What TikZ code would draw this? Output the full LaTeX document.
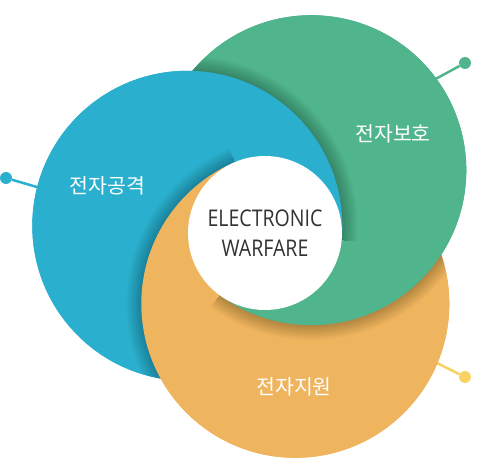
\documentclass[tikz,border=0pt]{standalone}
\usepackage{fontspec}
\setmainfont{Noto Sans CJK KR}
\newfontfamily\enfont[FakeStretch=0.85]{Open Sans}
\definecolor{ewblue}{HTML}{2AB0CE}
\definecolor{ewgreen}{HTML}{50B48C}
\definecolor{eworange}{HTML}{EFB45E}
\definecolor{ewyellow}{HTML}{F8D264}
\definecolor{ewtext}{HTML}{333333}
% soft shadow round a disc
\newcommand{\shadowrings}[2]{\foreach \d in {1,...,15} {\fill[black,opacity=0.014,even odd rule] (#1) circle ({#2+\d}) (#1) circle ({#2-1});}}

\begin{document}
\begin{tikzpicture}[x=1pt,y=-1pt]
	\tikzset{
		kortext/.style={text=white, font=\fontsize{20.5}{24}\selectfont, inner sep=0pt},
		core/.style={circle, fill=white, minimum size=154pt, inner sep=0pt, align=center, text=ewtext, font=\enfont\fontsize{23}{30}\selectfont},
		dot/.style={circle, inner sep=0pt, minimum size=12pt},
		link/.style={line width=2.5pt},
	}
	\useasboundingbox (0,0) rectangle (491,476);
	\coordinate (W) at (265,233);
	\coordinate (Cb) at (187.3,225.8);
	\coordinate (Cg) at (311.3,170.2);
	\coordinate (Co) at (295.3,303.8);
	\coordinate (Pb) at (1032,304);
	\coordinate (Pg) at (-192,853);
	\coordinate (Po) at (-38,-475);
	%Draw connectors
	\node[dot, fill=ewblue] (atkDot) at (6,178) {};
	\node[dot, fill=ewgreen] (prtDot) at (465,63) {};
	\node[dot, fill=ewyellow] (supDot) at (465,377) {};
	\coordinate (atkEnd) at (42,188.5);
	\coordinate (prtEnd) at (431,81.5);
	\coordinate (supEnd) at (434,361.5);
	\draw[link, ewblue] (atkDot) -- (atkEnd);
	\draw[link, ewgreen] (prtDot) -- (prtEnd);
	\draw[link, ewyellow] (supDot) -- (supEnd);
	%Draw discs
	\fill[ewgreen] (Cg) circle (155);
	\fill[ewblue] (Cb) circle (155);
	\fill[eworange] (Co) circle (154);
	\begin{scope}
		\clip (W) -- (Pb) -- (1200,-800) -- (Po) -- cycle;
		\begin{scope}[transparency group]
			\fill[eworange] (Co) circle (154);
			\begin{scope} \clip (Co) circle (154); \shadowrings{Cg}{155} \end{scope}
			\fill[ewgreen] (Cg) circle (155);
			\begin{scope} \clip (Cg) circle (155); \shadowrings{Cb}{155} \end{scope}
			\fill[ewblue] (Cb) circle (155);
		\end{scope}
	\end{scope}
	\begin{scope}
		\clip (W) -- (Po) -- (-1000,-475) -- (-1000,853) -- (Pg) -- cycle;
		\begin{scope}[transparency group]
			\fill[ewgreen] (Cg) circle (155);
			\begin{scope} \clip (Cg) circle (155); \shadowrings{Cb}{155} \end{scope}
			\fill[ewblue] (Cb) circle (155);
			\begin{scope} \clip (Cb) circle (155); \shadowrings{Co}{154} \end{scope}
			\fill[eworange] (Co) circle (154);
		\end{scope}
	\end{scope}
	\begin{scope}
		\clip (W) -- (Pg) -- (1100,1100) -- (Pb) -- cycle;
		\begin{scope}[transparency group]
			\fill[ewblue] (Cb) circle (155);
			\begin{scope} \clip (Cb) circle (155); \shadowrings{Co}{154} \end{scope}
			\fill[eworange] (Co) circle (154);
			\begin{scope} \clip (Co) circle (154); \shadowrings{Cg}{155} \end{scope}
			\fill[ewgreen] (Cg) circle (155);
		\end{scope}
	\end{scope}
	%Draw labels
	\node[core] (ew) at (W) {ELECTRONIC\\WARFARE};
	\node[kortext] (atk) at (107.5,186) {전자공격};
	\node[kortext] (prt) at (393,134) {전자보호};
	\node[kortext] (supp) at (294,387) {전자지원};
\end{tikzpicture}
\end{document}
